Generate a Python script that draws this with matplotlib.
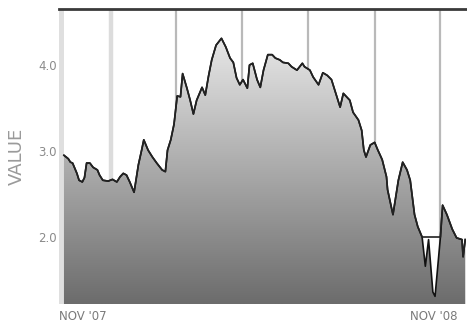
import numpy as np
import matplotlib
matplotlib.use("Agg")
import matplotlib.pyplot as plt
import matplotlib.dates as mdates
from matplotlib.colors import LinearSegmentedColormap

# one year of values, days counted from the first sample
start = np.datetime64("2007-11-18")
days = np.array([0, 4, 6, 8, 12, 14, 17, 19, 21, 24, 27, 31, 33, 36, 41, 45, 49, 52, 55, 58,
                 61, 65, 69, 72, 74, 78, 82, 86, 91, 94, 96, 99, 102, 105, 108, 110, 114, 117, 120, 123,
                 128, 131, 134, 137, 141, 146, 150, 154, 157, 160, 163, 166, 170, 172, 175, 179, 182, 185, 189, 193,
                 196, 200, 203, 208, 211, 216, 221, 223, 228, 231, 236, 240, 244, 248, 251, 256, 259, 262, 265, 268,
                 273, 276, 278, 280, 284, 288, 291, 295, 299, 300, 305, 310, 314, 318, 321, 325, 328, 332, 335, 338,
                 342, 344, 349, 351, 355, 360, 364, 369, 370, 372])
values = np.array([2.95, 2.91, 2.87, 2.86, 2.74, 2.66, 2.64, 2.69, 2.86, 2.86, 2.81, 2.78, 2.72, 2.66, 2.65, 2.67, 2.64, 2.70, 2.74, 2.72,
                   2.64, 2.52, 2.84, 3.01, 3.13, 3.01, 2.93, 2.86, 2.78, 2.76, 3.01, 3.13, 3.31, 3.64, 3.63, 3.90, 3.73, 3.59, 3.43, 3.59,
                   3.74, 3.65, 3.87, 4.06, 4.23, 4.31, 4.21, 4.08, 4.03, 3.85, 3.77, 3.83, 3.73, 4.00, 4.02, 3.83, 3.74, 3.94, 4.12, 4.12,
                   4.08, 4.06, 4.03, 4.02, 3.98, 3.94, 4.02, 3.98, 3.94, 3.86, 3.77, 3.91, 3.88, 3.83, 3.71, 3.51, 3.67, 3.63, 3.59, 3.45,
                   3.36, 3.24, 3.01, 2.93, 3.07, 3.10, 3.01, 2.90, 2.70, 2.55, 2.26, 2.66, 2.87, 2.78, 2.66, 2.26, 2.12, 2.00, 1.66, 1.97,
                   1.36, 1.31, 2.00, 2.37, 2.26, 2.09, 1.99, 1.97, 1.77, 1.97])
yticks = [2.0, 3.0, 4.0]
grid_months = ["2008-01-01", "2008-03-01", "2008-05-01", "2008-07-01", "2008-09-01", "2008-11-01"]
x_labels = ["NOV '07", "NOV '08"]

dates = mdates.date2num((start + days.astype("timedelta64[D]")).astype("datetime64[s]").astype(object))
grid_x = mdates.date2num([np.datetime64(m).astype("datetime64[s]").astype(object) for m in grid_months])

fig = plt.figure(figsize=(4.67, 3.23), dpi=100)
ax = fig.add_axes([59 / 467, 1 - 304 / 323, 407 / 467, 295.5 / 323])

x0 = dates[0] - 4.6
x1 = dates[0] + 372.7
y0, y1 = 1.221, 4.657
ax.set_xlim(x0, x1)
ax.set_ylim(y0, y1)

# month grid, the year change a bit lighter and wider
for i, gx in enumerate(grid_x):
    if i == 0:
        ax.axvline(gx, color="#dcdcdc", lw=3.2, zorder=1)
    else:
        ax.axvline(gx, color="#b9b9b9", lw=1.6, zorder=1)
ax.axvspan(x0, dates[0], color="#dfdfdf", lw=0, zorder=1)

# gradient fill under the curve
cmap = LinearSegmentedColormap.from_list("fade", ["#6c6c6c", "#e9e9e9"])
grad = np.linspace(0, 1, 256).reshape(-1, 1)
im = ax.imshow(grad, extent=[x0, x1, y0, 4.35], origin="lower", aspect="auto",
               cmap=cmap, zorder=2, interpolation="bilinear")
poly = ax.fill_between(dates, values, y0, facecolor="none", edgecolor="none")
im.set_clip_path(poly.get_paths()[0], transform=ax.transData)

ax.plot(dates, values, color="#111111", lw=1.2, zorder=3)
gap = (days > 332) & (days < 349)
ax.plot(dates[~gap], values[~gap], color="#222222", lw=1.2, zorder=3)

for s in ["right", "bottom", "left"]:
    ax.spines[s].set_visible(False)
ax.spines["top"].set_color("#3a3a3a")
ax.spines["top"].set_linewidth(2)

ax.set_xticks([])
ax.set_yticks(yticks)
ax.set_yticklabels(["%.1f" % v for v in yticks], fontsize=8.5, color="#8a8a8a")
ax.tick_params(axis="y", length=0, pad=1.5)
ax.set_ylabel("VALUE", fontsize=13, color="#9a9a9a")
ax.yaxis.set_label_coords(-0.082, 0.5)

fig.text(59 / 467, 1 - 316 / 323, x_labels[0], fontsize=8.5, color="#7a7a7a", ha="left", va="center")
fig.text(458 / 467, 1 - 316 / 323, x_labels[1], fontsize=8.5, color="#7a7a7a", ha="right", va="center")

fig.savefig("out.png", dpi=100)
